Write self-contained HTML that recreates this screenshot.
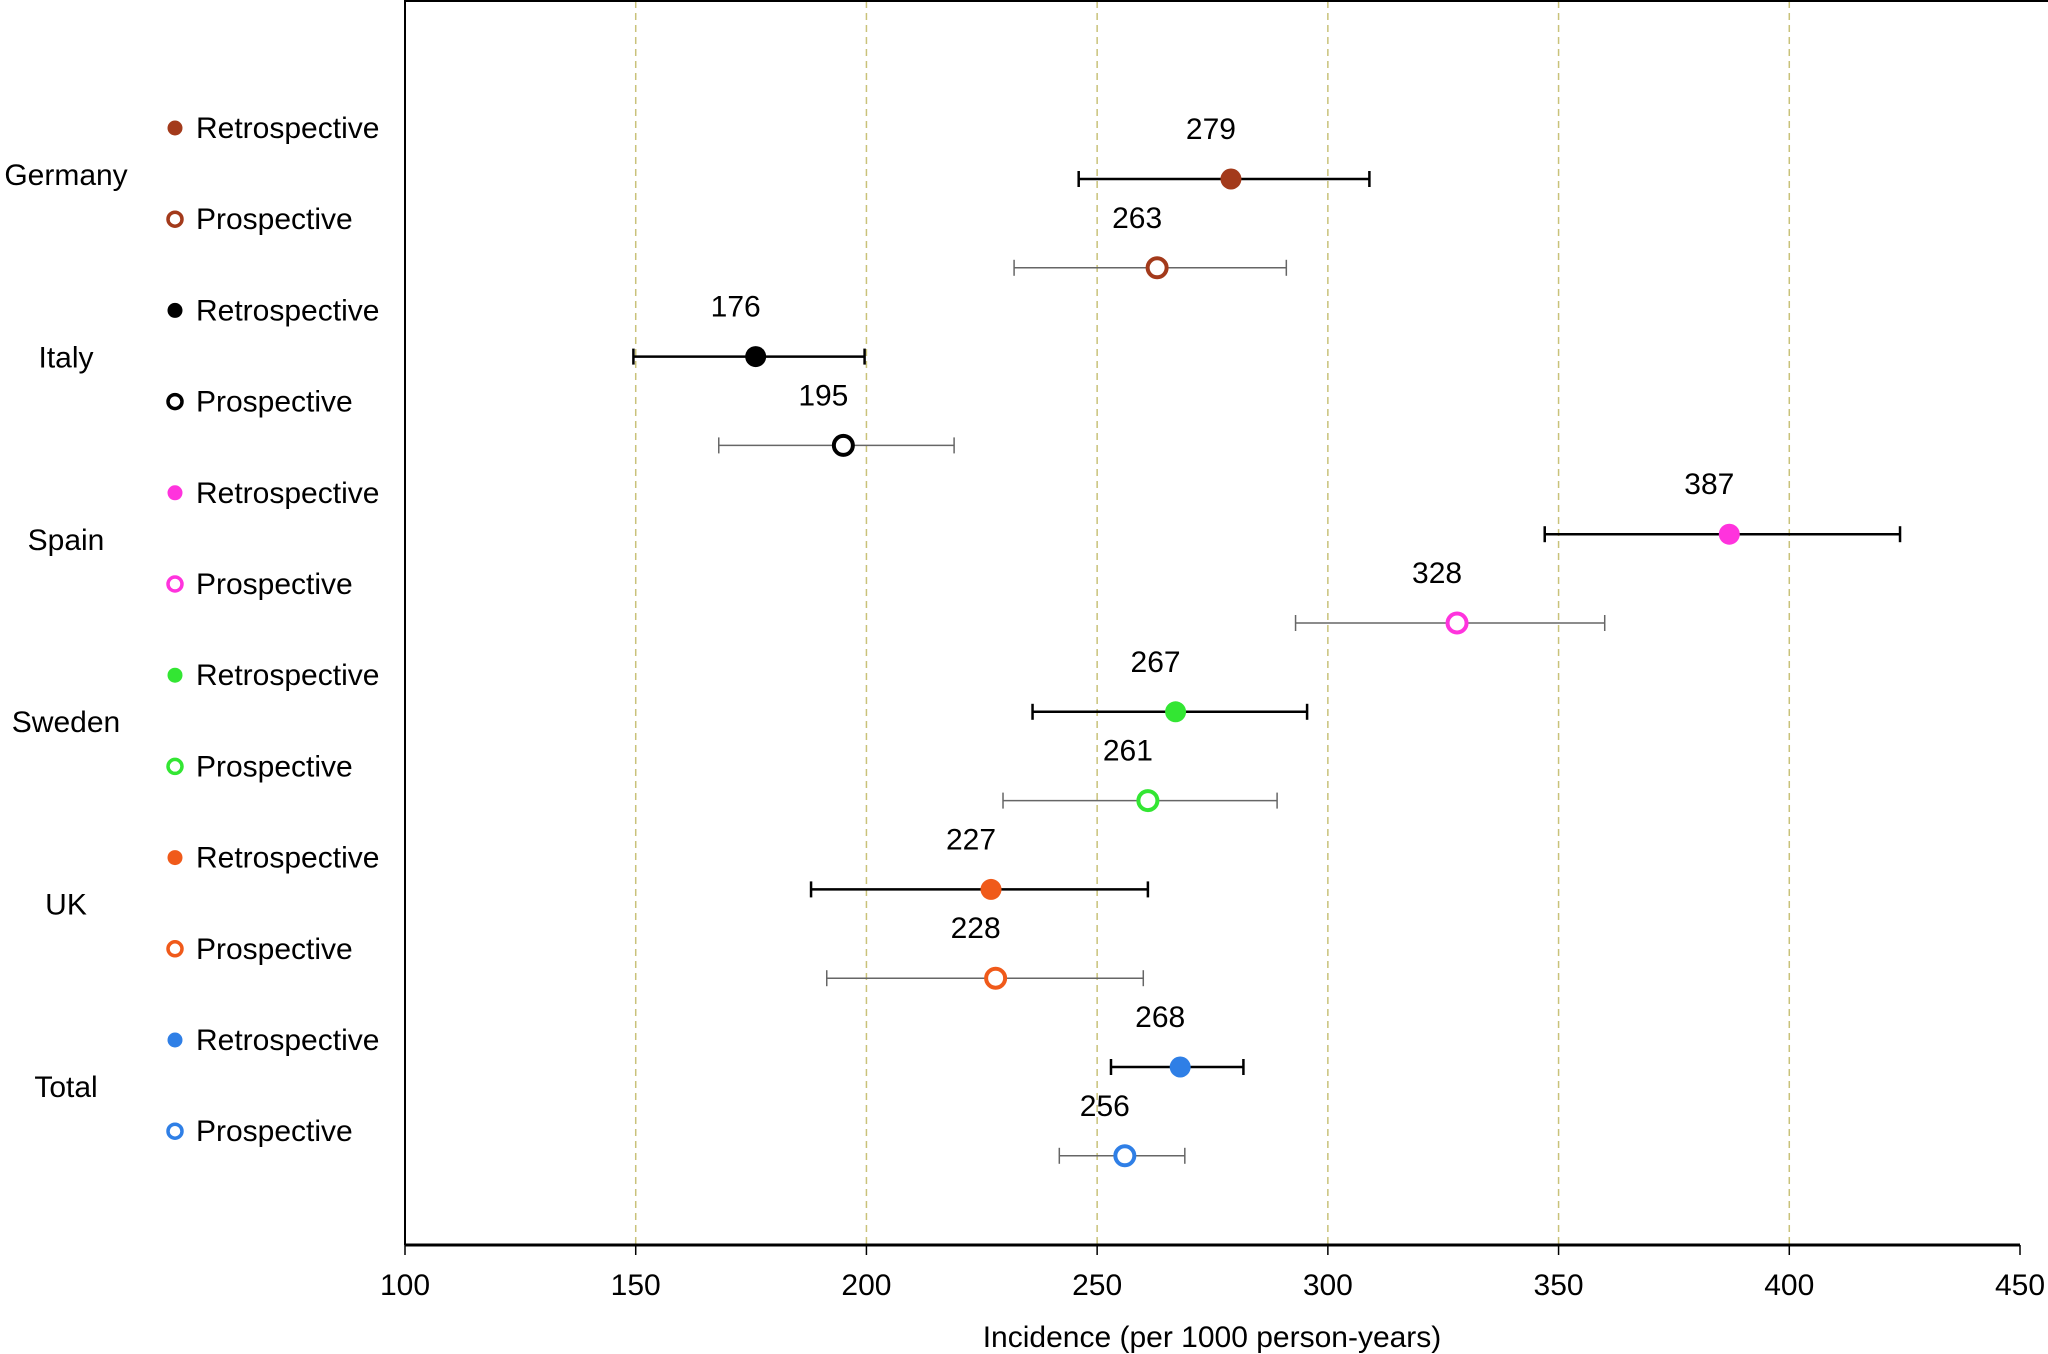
<!DOCTYPE html>
<html><head><meta charset="utf-8"><style>
html,body{margin:0;padding:0;background:#fff;width:2048px;height:1354px;overflow:hidden}
svg{display:block;font-family:"Liberation Sans",Arial,sans-serif}
</style></head><body>
<svg id="chart" width="2048" height="1354" viewBox="0 0 2048 1354" xmlns="http://www.w3.org/2000/svg"></svg>
<script>
const countries = ["Germany","Italy","Spain","Sweden","UK","Total"];
const colors = ["#a33a1b","#000000","#ff33dd","#33e633","#f05a1a","#2f7fe6"];
const retroValues = [279,176,387,267,227,268];
const retroLow = [246,149.5,347,236,188,253];
const retroHigh = [309,199.6,424,295.5,261,281.7];
const prosValues = [263,195,328,261,228,256];
const prosLow = [232,168,293,229.6,191.4,241.8];
const prosHigh = [291,219,360,289,260,269];
const xTicks = [100,150,200,250,300,350,400,450];

const svg = document.getElementById('chart');
const NS = "http://www.w3.org/2000/svg";
const X0=405, X1=2020, YTOP=1, YBOT=1245;
const xScale = v => X0 + (v-100)/(450-100)*(X1-X0);
const rowY = i => 179 + i*88.8;
const legendY = i => 128 + i*91.2;
function mk(tag, attrs, parent){
  const e=document.createElementNS(NS,tag);
  for(const k in attrs) e.setAttribute(k,attrs[k]);
  (parent||svg).appendChild(e); return e;
}
// grid
xTicks.forEach((t,i)=>{
  if(t>100 && t<450){
    const g=mk('line',{x1:xScale(t),x2:xScale(t),y1:YTOP,y2:YBOT,stroke:'#c9c27a','stroke-width':1.5,'stroke-dasharray':'7,5'});
    
    
  }
});
// frame
let ax=mk('line',{x1:X0,x2:X0,y1:0,y2:YBOT,stroke:'#000','stroke-width':2});


let tp=mk('line',{x1:X0,x2:2048,y1:1,y2:1,stroke:'#000','stroke-width':2});


let xa=mk('line',{x1:X0,x2:X1,y1:YBOT,y2:YBOT,stroke:'#000','stroke-width':3});


xTicks.forEach(t=>{
  const tk=mk('line',{x1:xScale(t),x2:xScale(t),y1:YBOT,y2:YBOT+10,stroke:'#000','stroke-width':1.5});
  
  
  const tl=mk('text',{x:xScale(t),y:1295,'text-anchor':'middle','font-size':30,fill:'#000'});
  tl.textContent=t;
  
  
});
const title=mk('text',{x:1212,y:1347,'text-anchor':'middle','font-size':30,fill:'#000'});
title.textContent='Incidence (per 1000 person-years)';



countries.forEach((c,i)=>{
  const cl=mk('text',{x:66,y:174+i*182.4+11,'text-anchor':'middle','font-size':30,fill:'#000'});
  cl.textContent=c;
  
  
  [0,1].forEach(k=>{
    const ly=legendY(i*2+k);
    const lm=mk('circle',{cx:175,cy:ly,r:k?7:7.5,fill:k?'#fff':colors[i],stroke:colors[i],'stroke-width':k?3.5:0});
    
    
    const lt=mk('text',{x:196,y:ly+10,'font-size':30,fill:'#000'});
    lt.textContent=k?'Prospective':'Retrospective';
    
    
  });
  const series=[[retroValues,retroLow,retroHigh,'#000',2.5,0],[prosValues,prosLow,prosHigh,'#666',1.5,1]];
  series.forEach(([vals,lo,hi,col,w,k])=>{
    const y=rowY(i*2+k);
    const nm=c.toLowerCase()+(k?'-prospective':'-retrospective');
    const el=mk('line',{x1:xScale(lo[i]),x2:xScale(hi[i]),y1:y,y2:y,stroke:col,'stroke-width':w});
    
    
    [lo[i],hi[i]].forEach(v=>{
      const cap=mk('line',{x1:xScale(v),x2:xScale(v),y1:y-8,y2:y+8,stroke:col,'stroke-width':w});
      
      
    });
    const p=mk('circle',{cx:xScale(vals[i]),cy:y,r:k?9.5:10.5,fill:k?'#fff':colors[i],stroke:colors[i],'stroke-width':k?4:0});
    
    
    const t=mk('text',{x:xScale(vals[i])-20,y:y-40,'text-anchor':'middle','font-size':30,fill:'#000'});
    t.textContent=vals[i];
    
    
  });
});
</script>
</body></html>
